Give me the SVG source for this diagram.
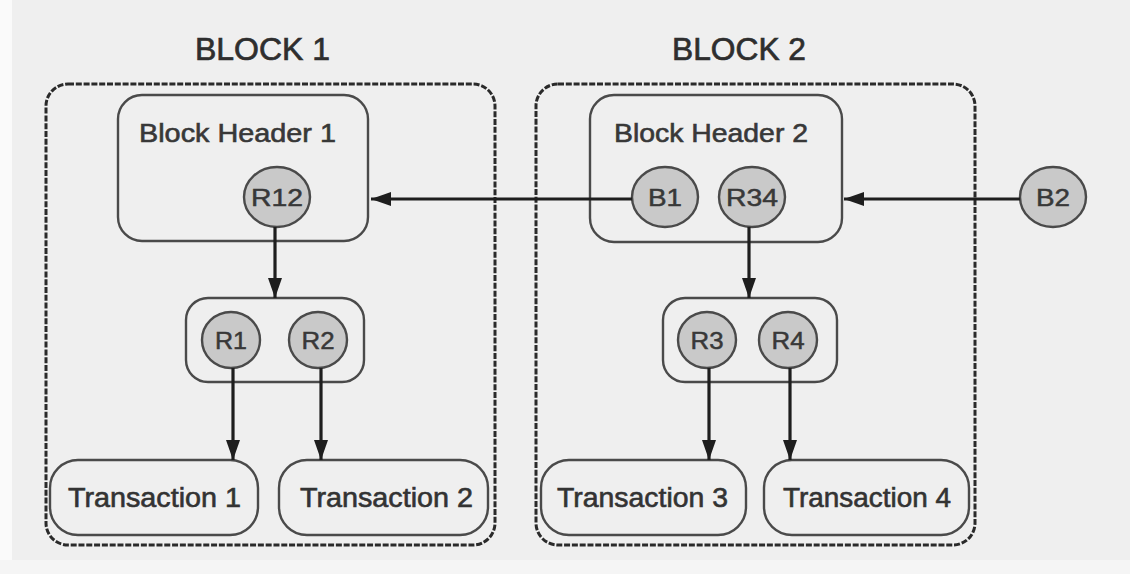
<svg xmlns="http://www.w3.org/2000/svg" width="1130" height="574" viewBox="0 0 1130 574">
  <style>
    .title { font-family: "Liberation Sans", Arial, sans-serif; font-size: 32px; fill: #2e2e2e; stroke: #2e2e2e; stroke-width: 0.7; }
    .lbl { font-family: "Liberation Sans", Arial, sans-serif; font-size: 26px; fill: #383838; stroke: #383838; stroke-width: 0.6; }
    .tx { font-family: "Liberation Sans", Arial, sans-serif; font-size: 27px; fill: #333; stroke: #333; stroke-width: 0.6; }
    .cl { font-family: "Liberation Sans", Arial, sans-serif; font-size: 24px; fill: #383838; stroke: #383838; stroke-width: 0.5; text-anchor: middle; }
    .outer { fill: none; stroke: #2a2a2a; stroke-width: 3; stroke-dasharray: 6 1.8; }
    .box { fill: none; stroke: #4a4a4a; stroke-width: 2.4; }
    .hash { fill: #c9c9c9; stroke: #4a4a4a; stroke-width: 2.4; }
    .edge { stroke: #1e1e1e; stroke-width: 3.2; fill: none; }
  </style>
  <defs>
    <marker id="arr" markerUnits="userSpaceOnUse" markerWidth="22" markerHeight="16" refX="20" refY="7" orient="auto">
      <path d="M0,0 L20,7 L0,14 z" fill="#1e1e1e"/>
    </marker>
  </defs>
  <rect x="0" y="0" width="1130" height="574" fill="#efefef"/>
  <rect x="0" y="0" width="12" height="574" fill="#fafafa"/>
  <rect x="0" y="560" width="1130" height="14" fill="#f5f5f5"/>

  <g id="block1">
    <text class="title" x="195" y="60" textLength="135" lengthAdjust="spacingAndGlyphs">BLOCK 1</text>
    <rect class="outer" x="46" y="84" width="449" height="461" rx="22"/>
  </g>
  <g id="block2">
    <text class="title" x="672" y="60" textLength="134" lengthAdjust="spacingAndGlyphs">BLOCK 2</text>
    <rect class="outer" x="536" y="84" width="439" height="461" rx="22"/>
  </g>

  <g id="header1">
    <rect class="box" x="118" y="95" width="250" height="146" rx="24"/>
    <text class="lbl" x="139" y="142" textLength="197" lengthAdjust="spacingAndGlyphs">Block Header 1</text>
  </g>
  <g id="r12">
    <ellipse class="hash" cx="277" cy="197" rx="33" ry="30"/>
    <text class="cl" x="277" y="206" textLength="52" lengthAdjust="spacingAndGlyphs">R12</text>
  </g>

  <g id="header2">
    <rect class="box" x="590" y="95" width="252" height="147" rx="24"/>
    <text class="lbl" x="614" y="142" textLength="194" lengthAdjust="spacingAndGlyphs">Block Header 2</text>
  </g>
  <g id="b1">
    <ellipse class="hash" cx="665" cy="197" rx="33" ry="30"/>
    <text class="cl" x="665" y="206" textLength="34" lengthAdjust="spacingAndGlyphs">B1</text>
  </g>
  <g id="r34">
    <ellipse class="hash" cx="752" cy="197" rx="33" ry="30"/>
    <text class="cl" x="752" y="206" textLength="52" lengthAdjust="spacingAndGlyphs">R34</text>
  </g>
  <g id="b2">
    <ellipse class="hash" cx="1053" cy="197" rx="33" ry="30"/>
    <text class="cl" x="1053" y="206" textLength="34" lengthAdjust="spacingAndGlyphs">B2</text>
  </g>

  <g id="pair12">
    <rect class="box" x="186" y="298" width="178" height="84" rx="22"/>
  </g>
  <g id="r1">
    <ellipse class="hash" cx="231" cy="340" rx="29" ry="28"/>
    <text class="cl" x="231" y="349" textLength="32" lengthAdjust="spacingAndGlyphs">R1</text>
  </g>
  <g id="r2">
    <ellipse class="hash" cx="318" cy="340" rx="29" ry="28"/>
    <text class="cl" x="318" y="349" textLength="33" lengthAdjust="spacingAndGlyphs">R2</text>
  </g>

  <g id="pair34">
    <rect class="box" x="663" y="298" width="174" height="84" rx="22"/>
  </g>
  <g id="r3">
    <ellipse class="hash" cx="707" cy="340" rx="29" ry="28"/>
    <text class="cl" x="707" y="349" textLength="33" lengthAdjust="spacingAndGlyphs">R3</text>
  </g>
  <g id="r4">
    <ellipse class="hash" cx="788" cy="340" rx="29" ry="28"/>
    <text class="cl" x="788" y="349" textLength="33" lengthAdjust="spacingAndGlyphs">R4</text>
  </g>

  <g id="tx1">
    <rect class="box" x="50" y="460" width="208" height="75" rx="28"/>
    <text class="tx" x="68" y="507" textLength="173" lengthAdjust="spacingAndGlyphs">Transaction 1</text>
  </g>
  <g id="tx2">
    <rect class="box" x="279" y="460" width="209" height="75" rx="28"/>
    <text class="tx" x="300" y="507" textLength="173" lengthAdjust="spacingAndGlyphs">Transaction 2</text>
  </g>
  <g id="tx3">
    <rect class="box" x="541" y="460" width="205" height="75" rx="28"/>
    <text class="tx" x="557" y="507" textLength="171" lengthAdjust="spacingAndGlyphs">Transaction 3</text>
  </g>
  <g id="tx4">
    <rect class="box" x="764" y="460" width="205" height="75" rx="28"/>
    <text class="tx" x="783" y="507" textLength="168" lengthAdjust="spacingAndGlyphs">Transaction 4</text>
  </g>

  <g id="connectors">
    <line class="edge" x1="632" y1="199" x2="371" y2="199" marker-end="url(#arr)"/>
    <line class="edge" x1="1020" y1="199" x2="844" y2="199" marker-end="url(#arr)"/>
    <line class="edge" x1="275" y1="227" x2="275" y2="298" marker-end="url(#arr)"/>
    <line class="edge" x1="749" y1="227" x2="749" y2="298" marker-end="url(#arr)"/>
    <line class="edge" x1="233" y1="368" x2="233" y2="460" marker-end="url(#arr)"/>
    <line class="edge" x1="321" y1="368" x2="321" y2="460" marker-end="url(#arr)"/>
    <line class="edge" x1="709" y1="368" x2="709" y2="460" marker-end="url(#arr)"/>
    <line class="edge" x1="790" y1="368" x2="790" y2="460" marker-end="url(#arr)"/>
  </g>
</svg>
